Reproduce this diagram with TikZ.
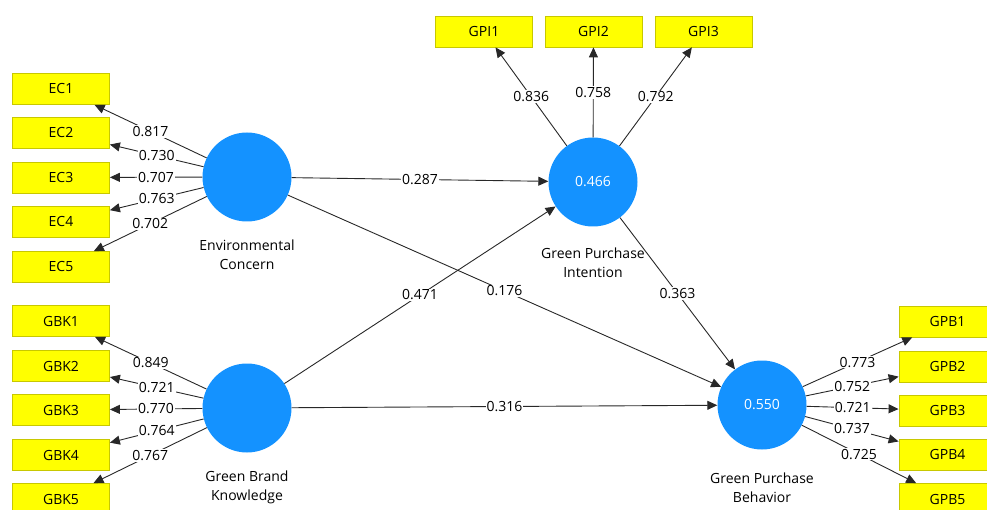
\documentclass[tikz,border=0pt]{standalone}
\usepackage{fontspec}
\setmainfont{Open Sans}
\usetikzlibrary{arrows.meta}
\definecolor{lvblue}{RGB}{20,146,255}
\definecolor{boxyellow}{RGB}{255,255,0}
\definecolor{boxborder}{RGB}{200,200,0}
\definecolor{linegray}{RGB}{40,40,40}
\tikzset{
  ind/.style={draw=boxborder, line width=0.8pt, fill=boxyellow, minimum width=97pt, minimum height=31pt, inner sep=0pt, font=\fontsize{14}{16}\selectfont},
  lv/.style={circle, fill=lvblue, minimum size=89pt, inner sep=0pt, text=white, font=\fontsize{14}{16}\selectfont},
  lvname/.style={align=center, font=\fontsize{14}{19}\selectfont, inner sep=0pt},
  lab/.style={fill=white, inner sep=1pt, font=\fontsize{14}{16}\selectfont},
  arr/.style={draw=linegray, line width=0.9pt, -{Triangle[length=10pt,width=9pt]}}
}
\begin{document}
\begin{tikzpicture}[x=1pt,y=-1pt]
\useasboundingbox (0,0) rectangle (987,510);
\begin{scope}
\clip (0,0) rectangle (987,510);
% indicator boxes
\node[ind] (ec1) at (61,89) {EC1};
\node[ind] (ec2) at (61,133) {EC2};
\node[ind] (ec3) at (61,177.5) {EC3};
\node[ind] (ec4) at (61,222) {EC4};
\node[ind] (ec5) at (61,267) {EC5};
\node[ind] (gbk1) at (61,321) {GBK1};
\node[ind] (gbk2) at (61,366) {GBK2};
\node[ind] (gbk3) at (61,410) {GBK3};
\node[ind] (gbk4) at (61,455) {GBK4};
\node[ind] (gbk5) at (61,499) {GBK5};
\node[ind] (gpi1) at (484,31.5) {GPI1};
\node[ind] (gpi2) at (593.5,31.5) {GPI2};
\node[ind] (gpi3) at (703.5,31.5) {GPI3};
\node[ind] (gpb1) at (947.5,321.5) {GPB1};
\node[ind] (gpb2) at (947.5,366.5) {GPB2};
\node[ind] (gpb3) at (947.5,410.5) {GPB3};
\node[ind] (gpb4) at (947.5,454.5) {GPB4};
\node[ind] (gpb5) at (947.5,499) {GPB5};
% latent variables
\node[lv] (ec) at (247,177) {};
\node[lv] (gbk) at (247,408) {};
\node[lv] (gpi) at (593,182) {0.466};
\node[lv] (gpb) at (762,405) {0.550};
\node[lvname] (ecn) at (247,254.5) {Environmental\\Concern};
\node[lvname] (gbkn) at (247,487) {Green Brand\\Knowledge};
\node[lvname] (gpin) at (593,262.5) {Green Purchase\\Intention};
\node[lvname] (gpbn) at (762,487.5) {Green Purchase\\Behavior};
% outer loadings
\draw[arr] (ec) -- node[lab] {0.817} (ec1);
\draw[arr] (ec) -- node[lab] {0.730} (ec2);
\draw[arr] (ec) -- node[lab] {0.707} (ec3);
\draw[arr] (ec) -- node[lab] {0.763} (ec4);
\draw[arr] (ec) -- node[lab] {0.702} (ec5);
\draw[arr] (gbk) -- node[lab] {0.849} (gbk1);
\draw[arr] (gbk) -- node[lab] {0.721} (gbk2);
\draw[arr] (gbk) -- node[lab] {0.770} (gbk3);
\draw[arr] (gbk) -- node[lab] {0.764} (gbk4);
\draw[arr] (gbk) -- node[lab] {0.767} (gbk5);
\draw[arr] (gpi) -- node[lab] {0.836} (gpi1);
\draw[arr] (gpi) -- node[lab] {0.758} (gpi2);
\draw[arr] (gpi) -- node[lab] {0.792} (gpi3);
\draw[arr] (gpb) -- node[lab] {0.773} (gpb1);
\draw[arr] (gpb) -- node[lab] {0.752} (gpb2);
\draw[arr] (gpb) -- node[lab] {0.721} (gpb3);
\draw[arr] (gpb) -- node[lab] {0.737} (gpb4);
\draw[arr] (gpb) -- node[lab] {0.725} (gpb5);
% structural paths
\draw[arr] (ec) -- node[lab] {0.287} (gpi);
\draw[arr] (ec) -- node[lab] {0.176} (gpb);
\draw[arr] (gbk) -- node[lab] {0.471} (gpi);
\draw[arr] (gbk) -- node[lab] {0.316} (gpb);
\draw[arr] (gpi) -- node[lab] {0.363} (gpb);
\end{scope}
\end{tikzpicture}
\end{document}
